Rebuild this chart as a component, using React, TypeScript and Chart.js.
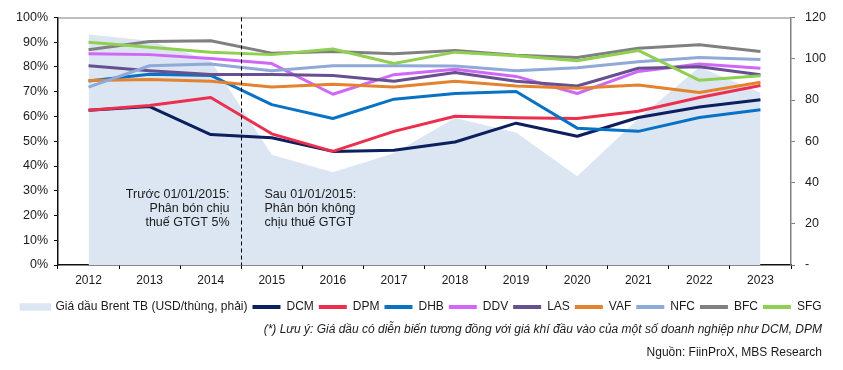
import React, { useEffect, useRef } from "react";
import { Chart, registerables } from "chart.js";

Chart.register(...registerables);

const FONT = '"Liberation Sans", Arial, Helvetica, sans-serif';

const years = ["2012", "2013", "2014", "2015", "2016", "2017", "2018", "2019", "2020", "2021", "2022", "2023"];
const brent = [111.7, 108.7, 99.0, 53.5, 45.0, 54.2, 71.3, 64.2, 43.0, 70.9, 96.0, 83.5];
const dcm = [62.5, 64.0, 52.7, 51.4, 45.9, 46.4, 49.7, 57.3, 52.0, 59.6, 63.8, 66.8];
const dpm = [62.5, 64.4, 67.7, 53.0, 45.9, 54.0, 60.1, 59.5, 59.2, 62.1, 67.7, 72.5];
const dhb = [74.3, 77.1, 76.6, 64.8, 59.2, 67.0, 69.3, 70.1, 55.3, 54.0, 59.6, 62.7];
const ddv = [85.4, 85.0, 83.4, 81.4, 69.0, 76.9, 79.1, 76.2, 69.3, 78.2, 81.2, 79.5];
const las = [80.5, 78.5, 77.0, 77.0, 76.6, 74.2, 77.8, 74.2, 72.3, 79.5, 80.1, 76.9];
const vaf = [74.5, 74.9, 74.2, 71.9, 73.0, 71.9, 74.2, 72.3, 71.4, 72.7, 69.7, 73.8];
const nfc = [71.9, 80.5, 81.2, 78.5, 80.5, 80.5, 80.4, 78.5, 79.7, 82.1, 83.8, 83.0];
const bfc = [87.0, 90.3, 90.6, 85.6, 86.3, 85.4, 86.7, 84.7, 83.8, 87.6, 89.0, 86.3];
const sfg = [90.0, 88.0, 86.0, 85.0, 87.3, 81.4, 86.0, 84.5, 82.5, 86.7, 74.6, 76.5];

const leftTicks = { min: 0, max: 100, step: 10 };
const rightTicks = { min: 0, max: 120, step: 20 };

const brentLabel = "Giá dầu Brent TB (USD/thùng, phải)";
const brentColor = "#dce6f2";

const series = [
  { label: "DCM", data: dcm, color: "#0c1f5e" },
  { label: "DPM", data: dpm, color: "#ec2f4f" },
  { label: "DHB", data: dhb, color: "#0a72c4" },
  { label: "DDV", data: ddv, color: "#d067f7" },
  { label: "LAS", data: las, color: "#67508f" },
  { label: "VAF", data: vaf, color: "#e3832f" },
  { label: "NFC", data: nfc, color: "#8fa9d8" },
  { label: "BFC", data: bfc, color: "#808080" },
  { label: "SFG", data: sfg, color: "#8fd050" },
];

const noteBefore = ["Trước 01/01/2015:", "Phân bón chịu", "thuế GTGT 5%"];
const noteAfter = ["Sau 01/01/2015:", "Phân bón không", "chịu thuế GTGT"];
const footnote = "(*) Lưu ý: Giá dầu có diễn biến tương đồng với giá khí đầu vào của một số doanh nghiệp như DCM, DPM";
const source = "Nguồn: FiinProX, MBS Research";

const overlayPlugin = {
  id: "overlay",
  afterDatasetsDraw(chart: any) {
    const { ctx, chartArea, scales } = chart;
    const xs = scales.x;
    const ys = scales.y;
    const xd = Math.round((xs.getPixelForValue(2) + xs.getPixelForValue(3)) / 2) + 0.5;
    ctx.save();
    // top border
    ctx.strokeStyle = "#7f7f7f";
    ctx.lineWidth = 1;
    ctx.beginPath();
    ctx.moveTo(chartArea.left, chartArea.top + 0.5);
    ctx.lineTo(chartArea.right, chartArea.top + 0.5);
    ctx.stroke();
    // divider
    ctx.strokeStyle = "#000";
    ctx.setLineDash([4, 3]);
    ctx.beginPath();
    ctx.moveTo(xd, chartArea.top);
    ctx.lineTo(xd, chartArea.bottom);
    ctx.stroke();
    ctx.setLineDash([]);
    // notes
    ctx.font = `12.5px ${FONT}`;
    ctx.fillStyle = "#1a1a1a";
    ctx.textBaseline = "middle";
    const y0 = ys.getPixelForValue(28.6);
    const lh = 14;
    ctx.textAlign = "right";
    noteBefore.forEach((t, i) => ctx.fillText(t, xd - 12, y0 + i * lh));
    ctx.textAlign = "left";
    noteAfter.forEach((t, i) => ctx.fillText(t, xd + 23, y0 + i * lh));
    ctx.restore();
  },
};

export default function App() {
  const ref = useRef<HTMLCanvasElement | null>(null);

  useEffect(() => {
    if (!ref.current) return;
    const datasets: any[] = [
      {
        type: "line",
        label: brentLabel,
        data: brent,
        yAxisID: "y1",
        fill: "origin",
        backgroundColor: brentColor,
        borderColor: brentColor,
        borderWidth: 0,
        pointRadius: 0,
        tension: 0,
        order: 100,
      },
      ...series.map((s, i) => ({
        type: "line",
        label: s.label,
        data: s.data,
        yAxisID: "y",
        borderColor: s.color,
        backgroundColor: s.color,
        borderWidth: 3,
        pointRadius: 0,
        tension: 0,
        fill: false,
        borderJoinStyle: "round",
        order: 20 - i,
      })),
    ];

    const tickFont = { family: FONT, size: 12 };

    const chart = new Chart(ref.current, {
      type: "line",
      data: { labels: years, datasets },
      options: {
        animation: false,
        responsive: false,
        devicePixelRatio: 1,
        layout: { padding: { top: 11, bottom: 47, left: 0, right: 0 } },
        plugins: {
          tooltip: { enabled: false },
          legend: {
            display: true,
            position: "bottom",
            labels: {
              boxWidth: 28,
              boxHeight: 4,
              padding: 5,
              color: "#1a1a1a",
              font: { family: FONT, size: 12 },
              generateLabels: (c: any) =>
                c.data.datasets.map((ds: any, i: number) => ({
                  text: ds.label,
                  fillStyle: i === 0 ? brentColor : ds.borderColor,
                  strokeStyle: i === 0 ? brentColor : ds.borderColor,
                  lineWidth: i === 0 ? 3.5 : 0,
                  hidden: false,
                  datasetIndex: i,
                  fontColor: "#1a1a1a",
                })),
            },
          },
        },
        scales: {
          x: {
            type: "category",
            offset: true,
            grid: { display: true, drawOnChartArea: false, offset: true, tickLength: 4, color: "#000" },
            border: { display: true, color: "#111", width: 1.5 },
            ticks: { color: "#1a1a1a", font: tickFont, padding: 4, maxRotation: 0, autoSkip: false },
            afterFit: (s: any) => {
              s.height = 31;
            },
          },
          y: {
            position: "left",
            min: leftTicks.min,
            max: leftTicks.max,
            ticks: {
              stepSize: leftTicks.step,
              color: "#1a1a1a",
              font: { family: FONT, size: 12.5 },
              padding: 6,
              callback: (v: any) => `${v}%`,
            },
            grid: { drawOnChartArea: false, tickLength: 4, color: "#000" },
            border: { display: true, color: "#111", width: 1.5 },
            afterFit: (s: any) => {
              s.width = 58;
            },
          },
          y1: {
            position: "right",
            min: rightTicks.min,
            max: rightTicks.max,
            ticks: {
              stepSize: rightTicks.step,
              color: "#1a1a1a",
              font: { family: FONT, size: 12.5 },
              padding: 10,
              callback: (v: any) => (v === 0 ? "-" : String(v)),
            },
            grid: { drawOnChartArea: false, tickLength: 4, color: "#808080" },
            border: { display: true, color: "#808080", width: 1.5 },
            afterFit: (s: any) => {
              s.width = 52;
            },
          },
        },
      },
      plugins: [overlayPlugin],
    } as any);
    return () => chart.destroy();
  }, []);

  return (
    <div style={{ position: "fixed", left: 0, top: 0, width: 843, height: 370, background: "#fff" }}>
      <canvas ref={ref} width={843} height={370} style={{ display: "block" }} />
      <div
        style={{
          position: "absolute",
          right: 21,
          top: 321,
          fontFamily: FONT,
          fontSize: 12,
          fontStyle: "italic",
          lineHeight: "16px",
          color: "#1a1a1a",
          whiteSpace: "nowrap",
        }}
      >
        {footnote}
      </div>
      <div
        style={{
          position: "absolute",
          right: 21,
          top: 344,
          fontFamily: FONT,
          fontSize: 12,
          lineHeight: "16px",
          color: "#1a1a1a",
          whiteSpace: "nowrap",
        }}
      >
        {source}
      </div>
    </div>
  );
}
